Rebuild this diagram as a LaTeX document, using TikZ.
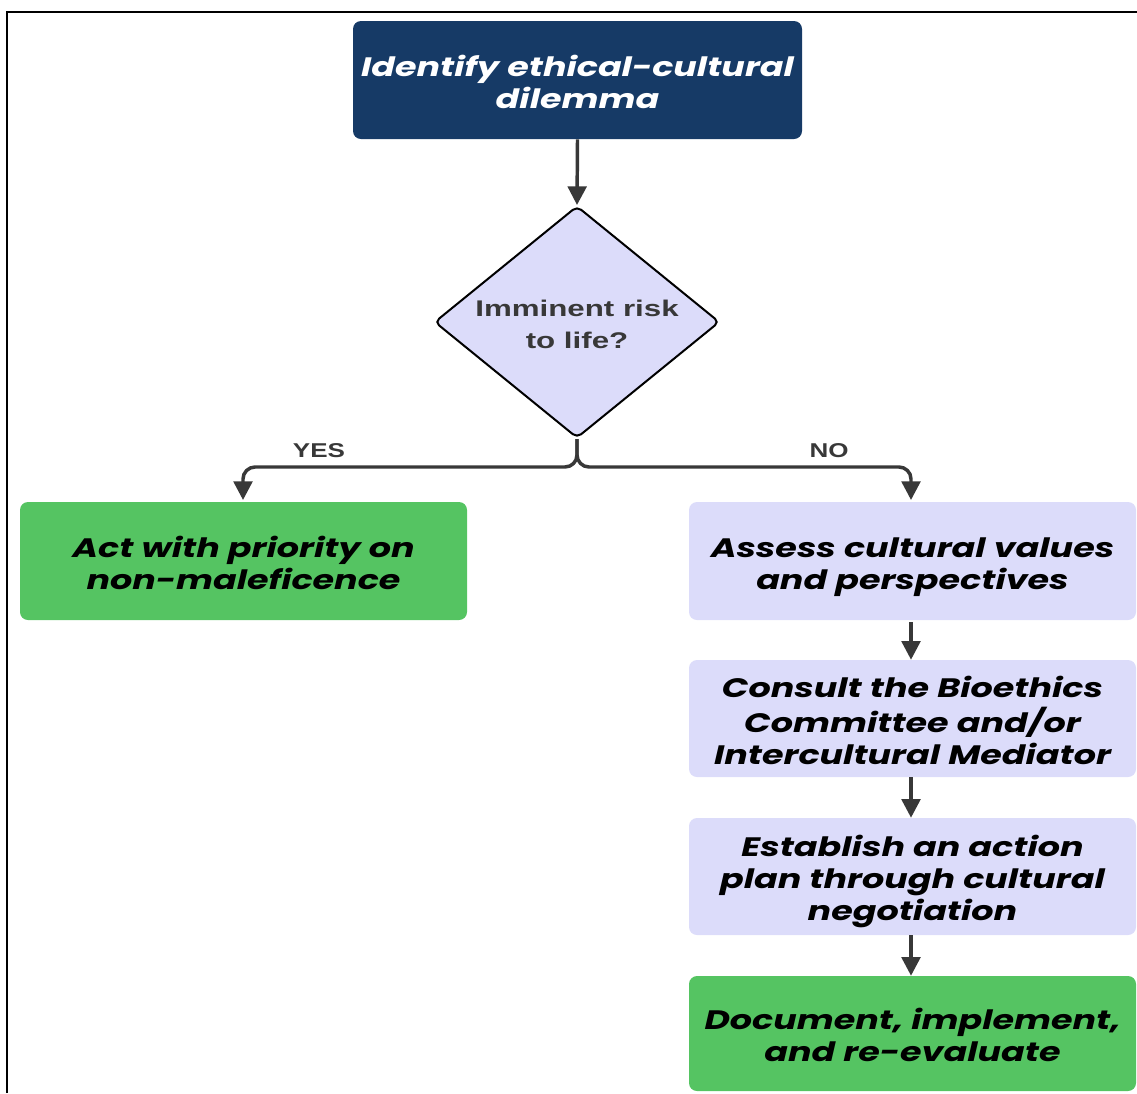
\documentclass[tikz,border=0pt]{standalone}
\usepackage{graphicx}
\usepackage{fontspec}
\setmainfont{Poppins}
\newfontfamily\diafont{Liberation Sans}
\usetikzlibrary{shapes.geometric,arrows.meta}
\definecolor{navy}{HTML}{163A66}
\definecolor{lav}{HTML}{DCDCFA}
\definecolor{grn}{HTML}{55C462}
\definecolor{conn}{HTML}{383838}
\newcommand{\wtxt}[2][1.31]{\raisebox{-4.3pt}[\height][\depth]{\scalebox{#1}[1]{\begin{tabular}{@{}c@{}}#2\end{tabular}}}}
\begin{document}
\begin{tikzpicture}[x=0.75pt,y=-0.75pt,
  box/.style={rectangle, rounded corners=6pt, inner sep=0pt, align=center,
    minimum width=335.25pt, minimum height=88.5pt,
    font=\fontsize{20}{24}\selectfont\bfseries\itshape, text=black},
  lavbox/.style={box, fill=lav},
  grnbox/.style={box, fill=grn},
  topbox/.style={box, fill=navy, text=white, minimum width=336.75pt},
  decision/.style={diamond, draw=black, line width=1.5pt, fill=lav, rounded corners=4pt,
    minimum width=213.75pt, minimum height=174pt, inner sep=0pt, aspect=1.228,
    align=center, font=\diafont\fontsize{17}{24}\selectfont\bfseries, text=conn},
  conn/.style={draw=conn, line width=2.6pt, -{Triangle[width=14pt,length=14pt]}},
  branch/.style={conn, rounded corners=9pt},
  lbl/.style={font=\diafont\fontsize{15}{18}\selectfont\bfseries, text=conn},
  frame/.style={draw=black, line width=2.2pt}]
\useasboundingbox (0,0) rectangle (1137,1093);
\draw[frame] (7,1093) -- (7,12) -- (1137,12);
\node[topbox] (top) at (577.5,80) {\wtxt{Identify ethical-cultural\\dilemma}};
\node[decision] (dia) at (577,322) {\raisebox{-3pt}[\height][\depth]{\scalebox{1.38}[1]{\begin{tabular}{@{}c@{}}Imminent risk\\to life?\end{tabular}}}};
\node[grnbox] (left) at (243.5,561) {\wtxt{Act with priority on\\non-maleficence}};
\node[lavbox] (r1) at (912.5,561) {\wtxt{Assess cultural values\\and perspectives}};
\node[lavbox, minimum height=87.75pt] (r2) at (912.5,718.5) {\wtxt{Consult the Bioethics\\Committee and/or\\Intercultural Mediator}};
\node[lavbox, minimum height=87.75pt] (r3) at (912.5,876.5) {\wtxt{Establish an action\\plan through cultural\\negotiation}};
\node[grnbox, minimum height=86.25pt] (r4) at (912.5,1033.5) {\wtxt{Document, implement,\\and re-evaluate}};
\coordinate (fork) at (577,467);
\draw[conn] (top.south) -- (dia.north);
\draw[branch] (dia.south) -- (fork) -| (243,500);
\draw[branch] (dia.south) -- (fork) -| (911,500);
\draw[conn] (911,622) -- (r2.north -| 911,0);
\draw[conn] (r2.south -| 911,0) -- (r3.north -| 911,0);
\draw[conn] (r3.south -| 911,0) -- (r4.north -| 911,0);
\node[lbl] (yes) at (319,451) {\scalebox{1.3}[1]{YES}};
\node[lbl] (no) at (829,451) {\scalebox{1.3}[1]{NO}};
\end{tikzpicture}
\end{document}
